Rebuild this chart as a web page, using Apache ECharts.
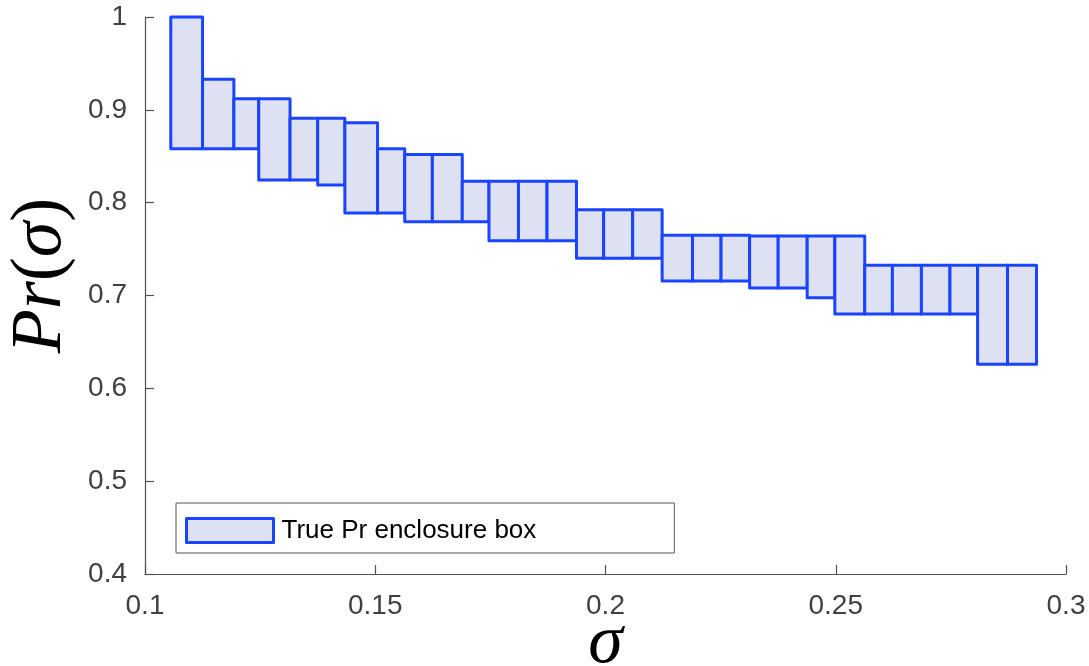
<!DOCTYPE html>
<html>
<head>
<meta charset="utf-8">
<script src="https://cdn.jsdelivr.net/npm/echarts@6/dist/echarts.min.js"></script>
<style>
  html, body { margin: 0; padding: 0; background: #fff; }
  #chart { width: 1089px; height: 666px; }
</style>
</head>
<body>
<div id="chart"></div>
<script>
// Bin edges along sigma (31 edges -> 30 boxes)
const sigmaEdges = [0.1056, 0.1125, 0.1193, 0.1247, 0.1315, 0.1375, 0.1434, 0.1505, 0.1564, 0.1624,
                    0.1689, 0.1747, 0.1811, 0.1873, 0.1937, 0.1996, 0.2059, 0.2123, 0.2189, 0.2251,
                    0.2313, 0.2375, 0.2438, 0.2498, 0.2563, 0.2623, 0.2686, 0.2748, 0.2808, 0.2873,
                    0.2936];
// Lower and upper bounds of Pr in each bin
const prLower = [0.858, 0.858, 0.858, 0.8245, 0.8245, 0.819, 0.789, 0.789, 0.7795, 0.7795,
                 0.7795, 0.759, 0.759, 0.759, 0.740, 0.740, 0.740, 0.7155, 0.7155, 0.7155,
                 0.708, 0.708, 0.6975, 0.680, 0.680, 0.680, 0.680, 0.680, 0.626, 0.626];
const prUpper = [1.0, 0.933, 0.912, 0.912, 0.891, 0.891, 0.886, 0.858, 0.852, 0.852,
                 0.823, 0.823, 0.823, 0.823, 0.7925, 0.7925, 0.7925, 0.765, 0.765, 0.765,
                 0.764, 0.764, 0.764, 0.764, 0.7325, 0.7325, 0.7325, 0.7325, 0.7325, 0.7325];
const seriesName = 'True Pr enclosure box';

const boxes = prLower.map((lo, i) => [sigmaEdges[i], sigmaEdges[i + 1], lo, prUpper[i]]);

const FILL = '#dde1f2';
const EDGE = '#1a44ff';
const AXIS = '#505050';
const LABEL = '#404040';

const chart = echarts.init(document.getElementById('chart'), null, { renderer: 'canvas' });

chart.setOption({
  animation: false,
  backgroundColor: '#ffffff',
  grid: { left: 145, right: 23, top: 17, bottom: 92, containLabel: false, outerBoundsMode: 'none' },
  legend: {
    left: 176, top: 503,
    orient: 'horizontal',
    backgroundColor: '#ffffff',
    borderColor: '#555555',
    borderWidth: 1,
    borderRadius: 0,
    padding: [14, 138, 9, 9],
    itemWidth: 87,
    itemHeight: 24,
    itemGap: 10,
    textStyle: { fontFamily: 'Liberation Sans', fontSize: 26, color: '#000', lineHeight: 24, padding: [0, 0, 0, 3] },
    data: [{
      name: seriesName,
      icon: 'rect',
      itemStyle: { color: FILL, borderColor: EDGE, borderWidth: 3, borderJoin: 'round' }
    }]
  },
  xAxis: {
    type: 'value',
    min: 0.1, max: 0.3, interval: 0.05,
    name: 'σ',
    nameLocation: 'middle',
    nameGap: 35,
    nameMoveOverlap: false,
    nameTextStyle: { fontFamily: 'Liberation Serif', fontStyle: 'italic', fontSize: 70, color: '#000' },
    axisLine: { show: true, lineStyle: { color: AXIS, width: 1.2 } },
    axisTick: { show: true, inside: true, length: 9, lineStyle: { color: AXIS, width: 1.2 } },
    axisLabel: { fontFamily: 'Liberation Sans', fontSize: 28, color: LABEL, margin: 18 },
    splitLine: { show: false }
  },
  yAxis: {
    type: 'value',
    min: 0.4, max: 1, interval: 0.1,
    name: '{i|Pr}{n|(}{i|σ}{n|)}',
    nameLocation: 'middle',
    nameGap: 68,
    nameMoveOverlap: false,
    nameRotate: 90,
    nameTextStyle: {
      color: '#000',
      padding: [0, 0, 0, 40],
      rich: {
        i: { fontFamily: 'Liberation Serif', fontStyle: 'italic', fontSize: 72, color: '#000' },
        n: { fontFamily: 'Liberation Serif', fontSize: 72, color: '#000' }
      }
    },
    axisLine: { show: true, lineStyle: { color: AXIS, width: 1.2 } },
    axisTick: { show: true, inside: true, length: 9, lineStyle: { color: AXIS, width: 1.2 } },
    axisLabel: { fontFamily: 'Liberation Sans', fontSize: 28, color: LABEL, margin: 18 },
    splitLine: { show: false }
  },
  series: [{
    name: seriesName,
    type: 'custom',
    itemStyle: { color: FILL, borderColor: EDGE, borderWidth: 3 },
    encode: { x: [0, 1], y: [2, 3] },
    data: boxes,
    renderItem: function (params, api) {
      const p0 = api.coord([api.value(0), api.value(3)]);
      const p1 = api.coord([api.value(1), api.value(2)]);
      return {
        type: 'rect',
        shape: { x: p0[0], y: p0[1], width: p1[0] - p0[0], height: p1[1] - p0[1] },
        style: { fill: FILL, stroke: EDGE, lineWidth: 3, lineJoin: 'round' }
      };
    }
  }]
});
</script>
</body>
</html>
